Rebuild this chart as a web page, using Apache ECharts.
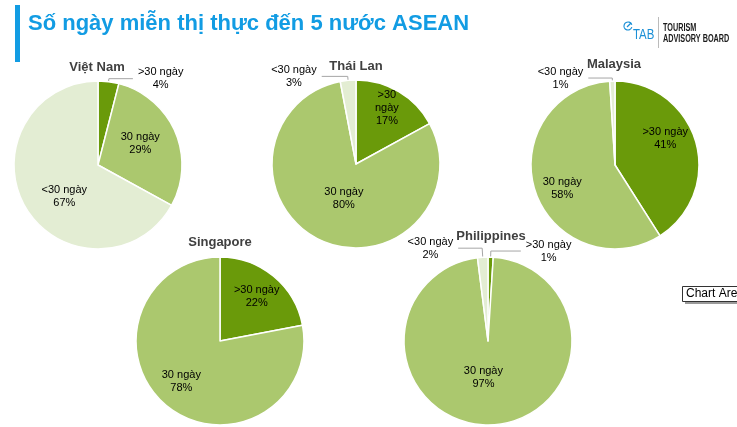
<!DOCTYPE html>
<html>
<head>
<meta charset="utf-8">
<script src="https://cdn.jsdelivr.net/npm/echarts@6/dist/echarts.min.js"></script>
<style>
html,body{margin:0;padding:0;background:#fff;}
#main{width:737px;height:427px;}
</style>
</head>
<body>
<div id="main"></div>
<script>
// ---- data ----
const countries = ['Việt Nam', 'Thái Lan', 'Malaysia', 'Singapore', 'Philippines'];
const categories = ['>30 ngày', '30 ngày', '<30 ngày'];
const over30 = [4, 17, 41, 22, 1];
const days30 = [29, 80, 58, 78, 97];
const under30 = [67, 3, 1, 0, 2];
const mainTitle = 'Số ngày miễn thị thực đến 5 nước ASEAN';

// ---- layout / style ----
const centers = [[98, 165], [356, 164], [615, 165], [220, 341], [488, 341]];
const titlePos = [[92, 56], [351, 55], [609, 53], [215, 231], [486, 225]];
const radius = 84;
const colors = ['#6a9a0a', '#abc86e', '#e3edd3'];
// outside label line settings per [country]-[category]
const outside = {
  '0-0': [3, 24],
  '1-2': [4, 26],
  '2-2': [3, 24],
  '4-0': [6, 30],
  '4-2': [9, 24]
};
// nudges for inside labels (Excel places them a bit differently)
const nudge = {
  '0-1': [1, -4], '0-2': [5, 9],
  '1-0': [8, -17], '1-1': [7, -6],
  '2-0': [7, -14], '2-1': [-10, 10],
  '3-0': [8, -10], '3-1': [-10, 6],
  '4-1': [-6, -9]
};
const FONT = 'Arial, "Liberation Sans", sans-serif';

const seriesValues = [over30, days30, under30];
const series = countries.map((c, ci) => {
  const data = [];
  const keys = [];
  categories.forEach((cat, k) => {
    const v = seriesValues[k][ci];
    if (!v) return;
    const key = ci + '-' + k;
    keys.push(key);
    const item = { name: cat, value: v, itemStyle: { color: colors[k] } };
    if (outside[key]) {
      item.label = { position: 'outside' };
      item.labelLine = { show: true, length: outside[key][0], length2: outside[key][1] };
    }
    if (ci === 1 && k === 0) {
      item.label = { formatter: '{a|>30}\n{a|ngày}\n{a|{c}%}' };
    }
    data.push(item);
  });
  return {
    type: 'pie',
    center: centers[ci],
    radius: radius,
    startAngle: 90,
    clockwise: true,
    silent: true,
    animation: false,
    itemStyle: { borderColor: '#ffffff', borderWidth: 1.5 },
    label: {
      show: true,
      position: 'inside',
      formatter: '{a|{b}}\n{a|{c}%}',
      color: '#000',
      fontFamily: FONT,
      fontSize: 11,
      lineHeight: 13,
      rich: { a: { align: 'center', fontSize: 11, lineHeight: 13, color: '#000', fontFamily: FONT } }
    },
    labelLine: { show: false, lineStyle: { color: '#a6a6a6', width: 1 }, smooth: false },
    labelLayout: function (p) {
      const n = nudge[keys[p.dataIndex]];
      return n ? { dx: n[0], dy: n[1] } : {};
    },
    data: data
  };
});

const titles = [{
  text: mainTitle,
  left: 23, top: 8,
  textStyle: { color: '#129ce3', fontSize: 22, fontWeight: 'bold', fontFamily: FONT }
}].concat(countries.map((c, i) => ({
  text: c,
  left: titlePos[i][0], top: titlePos[i][1],
  textAlign: 'center',
  textStyle: { color: '#404040', fontSize: 13, fontWeight: 'bold', fontFamily: FONT }
})));

const LOGOFONT = '"Liberation Sans", Arial, sans-serif';
const chart = echarts.init(document.getElementById('main'), null, { renderer: 'canvas' });
chart.setOption({
  backgroundColor: '#ffffff',
  animation: false,
  title: titles,
  series: series,
  graphic: [
    { type: 'rect', shape: { x: 15, y: 5, width: 5, height: 57 }, style: { fill: '#129ce3' } },
    // logo
    { type: 'arc', shape: { cx: 628, cy: 26, r: 4, startAngle: 0.3, endAngle: Math.PI * 1.9 }, style: { stroke: '#1b8fd6', lineWidth: 1.2, fill: null } },
    { type: 'line', shape: { x1: 627, y1: 27, x2: 631, y2: 23 }, style: { stroke: '#1b8fd6', lineWidth: 1.2 } },
    { type: 'text', x: 633, y: 42, scaleX: 0.76, style: { x: 0, y: 0, text: 'TAB', fill: '#1b8fd6', font: '15px ' + LOGOFONT, textVerticalAlign: 'bottom' } },
    { type: 'line', shape: { x1: 658.5, y1: 17, x2: 658.5, y2: 48 }, style: { stroke: '#bbbbbb', lineWidth: 1 } },
    { type: 'text', x: 663, y: 33, scaleX: 0.66, style: { x: 0, y: 0, text: 'TOURISM', fill: '#1a1a1a', font: 'bold 11px ' + LOGOFONT, textVerticalAlign: 'bottom' } },
    { type: 'text', x: 663, y: 44, scaleX: 0.66, style: { x: 0, y: 0, text: 'ADVISORY BOARD', fill: '#1a1a1a', font: 'bold 11px ' + LOGOFONT, textVerticalAlign: 'bottom' } },
    // "Chart Area" tooltip
    { type: 'rect', shape: { x: 685, y: 289, width: 60, height: 15 }, style: { fill: '#9a9a9a' } },
    { type: 'rect', shape: { x: 682.5, y: 286.5, width: 60, height: 15 }, style: { fill: '#ffffff', stroke: '#333', lineWidth: 1 } },
    { type: 'text', style: { x: 686, y: 294, text: 'Chart Area', fill: '#000', font: '12px "Liberation Sans", Arial', textVerticalAlign: 'middle' } }
  ]
});
</script>
</body>
</html>
